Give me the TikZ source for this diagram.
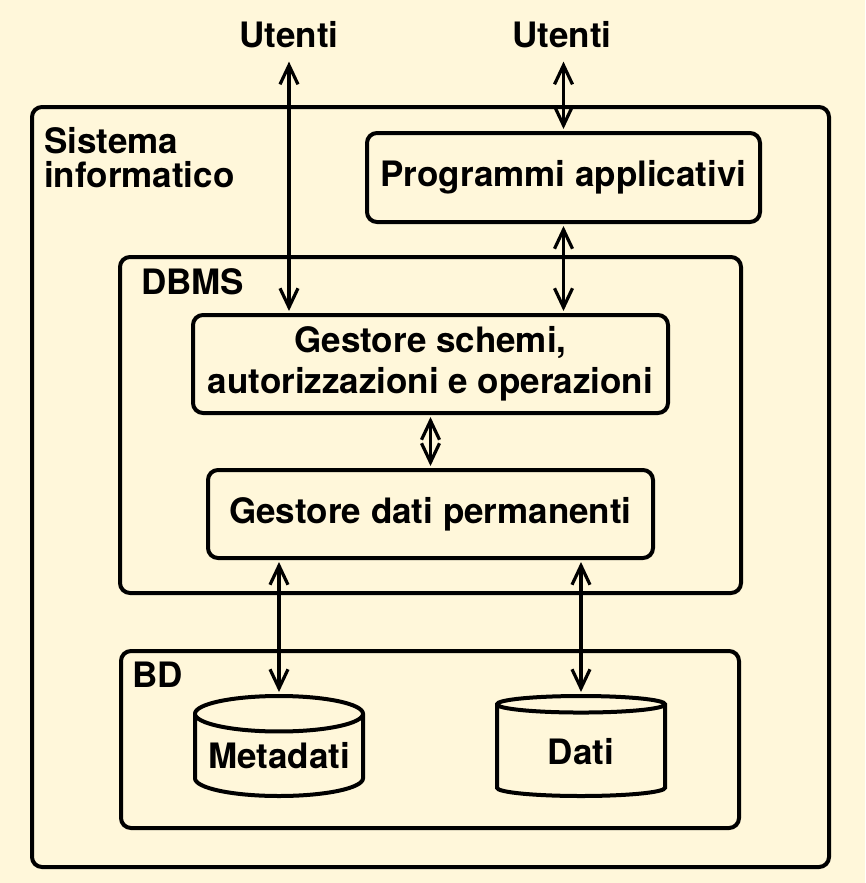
\documentclass[tikz,border=0pt]{standalone}
\usepackage{fontspec}
\setmainfont{TeX Gyre Heros}
\usetikzlibrary{arrows.meta,shapes.geometric}
\definecolor{cream}{RGB}{255,247,218}
\begin{document}
\begin{tikzpicture}[x=1pt,y=-1pt,>={Straight Barb[length=19pt,width=18pt]}]

    \tikzset{
      box/.style={
        draw,
        line width=4pt,
        rounded corners=10pt,
        inner sep=0pt,
        align=center,
        font=\fontsize{35}{41}\selectfont\bfseries,
      },
      caption/.style={
        inner sep=0pt,
        anchor=base west,
        font=\fontsize{35}{34}\selectfont\bfseries,
      },
      db/.style={
        draw,
        line width=4pt,
        cylinder,
        shape border rotate=90,
        aspect=0.25,
        minimum width=168pt,
        minimum height=100pt,
        inner sep=0pt,
        anchor=shape center,
        font=\fontsize{35}{41}\selectfont\bfseries,
      },
      link/.style={
        <->,
        line width=3.2pt,
        shorten <=2pt,
        shorten >=2pt,
      },
    }
    \fill[cream] (0,0) rectangle (865,883);
	\node[box, minimum width=797pt, minimum height=760pt] (sistema) at (430.5,487) {};
	\node[box, minimum width=621pt, minimum height=336pt] (dbms) at (430.5,425) {};
	\node[box, minimum width=618pt, minimum height=177pt] (bd) at (430,739.5) {};
	\node[box, minimum width=393pt, minimum height=89pt] (prog) at (563.5,177.5) {Programmi applicativi};
	\node[box, minimum width=475pt, minimum height=98pt] (schemi) at (430.5,364) {Gestore schemi,\\autorizzazioni e operazioni};
	\node[box, minimum width=445pt, minimum height=88pt] (perm) at (430.5,514) {Gestore dati permanenti};
	\node[db] (meta) at (279,746) {Metadati};
	\node[db] (dati) at (581,746) {Dati};
	\node[caption] (sistemalab) at (44,153) {Sistema};
	\node[caption] (infolab) at (44,187) {informatico};
	\node[caption] (dbmslab) at (141,294) {DBMS};
	\node[caption] (bdlab) at (132,687) {BD};
	\node[caption, anchor=base] (utenti1) at (289,48) {Utenti};
	\node[caption, anchor=base] (utenti2) at (562,48) {Utenti};
	\draw[link, shorten <=13pt] (utenti1.south) -- (utenti1.south |- schemi.north);
	\draw[link, shorten <=13pt] (prog.north |- utenti2.south) -- (prog.north);
	\draw[link] (prog.south) -- (prog.south |- schemi.north);
	\draw[link] (schemi.south) -- (perm.north);
	\draw[link] (meta.north |- perm.south) -- (meta.north);
	\draw[link] (dati.north |- perm.south) -- (dati.north);

\end{tikzpicture}
\end{document}
